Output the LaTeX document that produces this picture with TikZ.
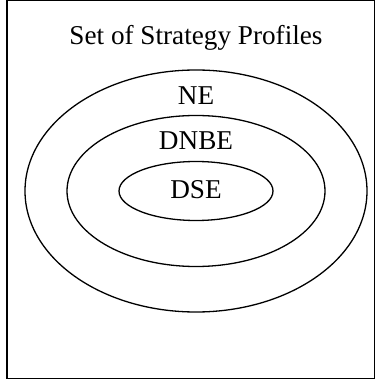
\documentclass[tikz,border=0pt]{standalone}
\usepackage{fontspec}
\setmainfont{Liberation Serif}
\usetikzlibrary{shapes.geometric}

\begin{document}
\begin{tikzpicture}[
    x=0.5pt, y=0.5pt,
    font=\fontsize{13.6}{16}\selectfont,
    ring/.style={draw=black, ellipse, line width=0.65pt, inner sep=0pt},
    label/.style={anchor=base, inner sep=0pt}
]

% Frame and bounding box
\useasboundingbox (0,0) rectangle (375,386);
\draw[line width=0.75pt] (7,7.5) rectangle (375,385.5);

% Nested sets
\node[ring, minimum width=171pt, minimum height=121pt] (ne) at (196,195) {};
\node[ring, minimum width=129pt, minimum height=75.5pt] (dnbe) at (196,195) {};
\node[ring, minimum width=77pt, minimum height=29.5pt] (dse) at (196,195) {};

% Labels
\node[label] (set) at (196,341) {Set of Strategy Profiles};
\node[label] (nelabel) at (196,281) {NE};
\node[label] (dnbelabel) at (196,236) {DNBE};
\node[label] (dselabel) at (196,187) {DSE};

\end{tikzpicture}
\end{document}
